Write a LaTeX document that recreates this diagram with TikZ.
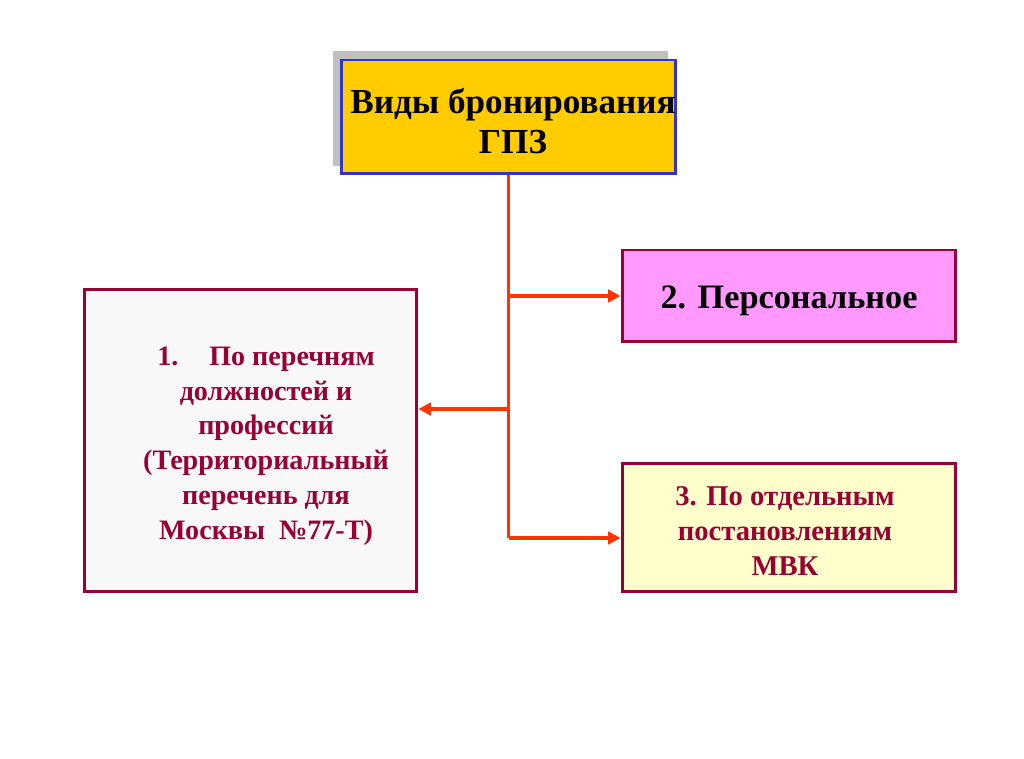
\documentclass[tikz,border=0pt]{standalone}
\usepackage{fontspec}
\setmainfont{Liberation Serif}
\usetikzlibrary{arrows.meta,calc}
\definecolor{goldfill}{HTML}{FFCC00}
\definecolor{frameblue}{HTML}{3333CC}
\definecolor{wine}{HTML}{990033}
\definecolor{pinkfill}{HTML}{FF99FF}
\definecolor{creamfill}{HTML}{FFFFCC}
\definecolor{greyfill}{HTML}{F8F8F8}
\definecolor{arrowred}{HTML}{FF3300}
\definecolor{shadowgrey}{HTML}{C0C0C0}
\tikzset{
  kindbox/.style={draw=wine,line width=1.7pt,inner sep=0pt,align=center,font=\bfseries},
  branch/.style={draw=arrowred,line width=2pt,-{Triangle[length=7pt,width=7pt]}}
}
\begin{document}
\begin{tikzpicture}[x=0.02cm,y=-0.02cm]
\useasboundingbox(0,0)rectangle(1024,759);
\fill[shadowgrey](333,51)rectangle(668,166);
\node[draw=frameblue,fill=goldfill,line width=1.7pt,minimum width=6.7cm,minimum height=2.28cm,inner sep=0pt](title)at(508.5,117){};
\node[font=\bfseries\fontsize{20}{22.5}\selectfont,align=center](titletext)at(513,121){Виды бронирования\\ГПЗ};
\node[kindbox,fill=pinkfill,minimum width=6.68cm,minimum height=1.84cm](personal)at(789,296){};
\node[font=\bfseries\fontsize{19.5}{22}\selectfont](personaltext)at(789,301){2. Персональное};
\node[kindbox,fill=greyfill,minimum width=6.66cm,minimum height=6.06cm](lists)at(250.5,440.5){};
\node[text=wine,font=\bfseries\fontsize{16}{19.8}\selectfont,align=center](liststext)at(266,446){1.\hspace{1.1em}По перечням\\должностей и\\профессий\\(Территориальный\\перечень для\\Москвы \ №77-Т)};
\node[kindbox,fill=creamfill,minimum width=6.68cm,minimum height=2.58cm](decree)at(789,527.5){};
\node[text=wine,font=\bfseries\fontsize{16.3}{19.8}\selectfont,align=center](decreetext)at(785,531){3. По отдельным\\постановлениям\\МВК};
\coordinate(split1)at(title.south|-personal.west);
\coordinate(split2)at(title.south|-0,409);
\coordinate(split3)at(title.south|-0,538);
\draw[arrowred,line width=2pt](title.south)--(split3);
\draw[branch](split1)--(personal.west);
\draw[branch](split2)--(split2-|lists.east);
\draw[branch](split3)--(split3-|decree.west);
\end{tikzpicture}
\end{document}
